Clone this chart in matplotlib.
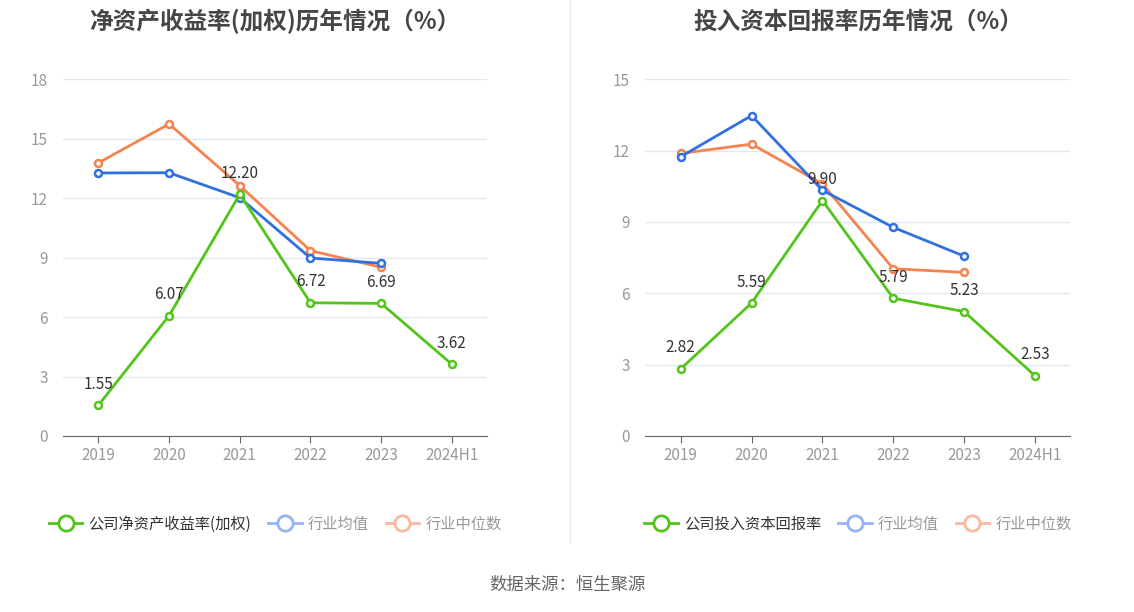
import matplotlib
matplotlib.use("Agg")
import matplotlib.pyplot as plt
from matplotlib.lines import Line2D

plt.rcParams['font.family'] = ['Noto Sans CJK SC', 'DejaVu Sans']

categories = ["2019", "2020", "2021", "2022", "2023", "2024H1"]

roe_company = [1.55, 6.07, 12.20, 6.72, 6.69, 3.62]
roe_avg = [13.27, 13.28, 12.02, 8.98, 8.71]
roe_median = [13.78, 15.74, 12.63, 9.35, 8.51]

roic_company = [2.82, 5.59, 9.90, 5.79, 5.23, 2.53]
roic_avg = [11.74, 13.47, 10.33, 8.77, 7.56]
roic_median = [11.88, 12.27, 10.60, 7.03, 6.88]

titles = ["净资产收益率(加权)历年情况（%）", "投入资本回报率历年情况（%）"]
legend_names = [["公司净资产收益率(加权)", "行业均值", "行业中位数"],
                ["公司投入资本回报率", "行业均值", "行业中位数"]]
yticks_sets = [[0, 3, 6, 9, 12, 15, 18], [0, 3, 6, 9, 12, 15]]
source_text = "数据来源：恒生聚源"

GREEN = "#52c41a"
BLUE = "#3070e0"
ORANGE = "#f5834f"
BLUE_L = "#94b4f5"
ORANGE_L = "#fcb8a0"

fig = plt.figure(figsize=(11.34, 6.12), dpi=100)
fig.patch.set_facecolor("white")

axes_pos = [[0.0556, 0.2876, 0.374, 0.583], [0.569, 0.2876, 0.375, 0.583]]
datasets = [(roe_company, roe_avg, roe_median), (roic_company, roic_avg, roic_median)]

for i in range(2):
    ax = fig.add_axes(axes_pos[i])
    comp, avg, med = datasets[i]
    yt = yticks_sets[i]
    x_all = list(range(len(categories)))
    x5 = x_all[:len(avg)]
    mk = dict(marker='o', markersize=5, markerfacecolor='white', markeredgewidth=1.8)
    ax.plot(x5, med, color=ORANGE, lw=2, markeredgecolor=ORANGE, zorder=3, **mk)
    ax.plot(x5, avg, color=BLUE, lw=2, markeredgecolor=BLUE, zorder=4, **mk)
    ax.plot(x_all, comp, color=GREEN, lw=2, markeredgecolor=GREEN, zorder=5, **mk)
    for xx, v in zip(x_all, comp):
        ax.annotate(f"{v:.2f}", (xx, v), xytext=(0, 9), textcoords='offset points',
                    ha='center', va='bottom', fontsize=11, color='#333333', zorder=6)
    ax.set_xlim(-0.5, len(categories) - 0.5)
    ax.set_ylim(yt[0], yt[-1])
    ax.set_yticks(yt)
    ax.set_yticklabels([str(t) for t in yt])
    ax.set_xticks(x_all)
    ax.set_xticklabels(categories)
    ax.grid(axis='y', color='#e3e7f2', lw=1)
    ax.set_axisbelow(True)
    for s in ['top', 'right', 'left']:
        ax.spines[s].set_visible(False)
    ax.spines['bottom'].set_color('#666666')
    ax.tick_params(axis='y', length=0, labelsize=11, labelcolor='#999999', pad=11)
    ax.tick_params(axis='x', length=5, color='#666666', labelsize=11, labelcolor='#999999', pad=3)
    ax.set_title(titles[i], fontsize=17, fontweight='bold', color='#464646', pad=36)

    handles = [
        Line2D([0], [0], color=GREEN, lw=2, marker='o', markersize=11, markerfacecolor='white', markeredgecolor=GREEN, markeredgewidth=2),
        Line2D([0], [0], color=BLUE_L, lw=2, marker='o', markersize=11, markerfacecolor='white', markeredgecolor=BLUE_L, markeredgewidth=2),
        Line2D([0], [0], color=ORANGE_L, lw=2, marker='o', markersize=11, markerfacecolor='white', markeredgecolor=ORANGE_L, markeredgewidth=2),
    ]
    leg = ax.legend(handles, legend_names[i], loc='upper center', bbox_to_anchor=(0.5, -0.185),
                    ncol=3, frameon=False, fontsize=11, handlelength=2.2, handletextpad=0.4,
                    columnspacing=1.1)
    cols = ['#333333', '#999999', '#999999']
    for t, c in zip(leg.get_texts(), cols):
        t.set_color(c)

fig.add_artist(Line2D([0.5026, 0.5026], [0.115, 1.0], color='#e8e8e8', lw=1))
fig.text(0.5, 0.044, source_text, ha='center', va='center', fontsize=12.5, color='#666666')

fig.savefig("out.png", dpi=100, facecolor='white')
